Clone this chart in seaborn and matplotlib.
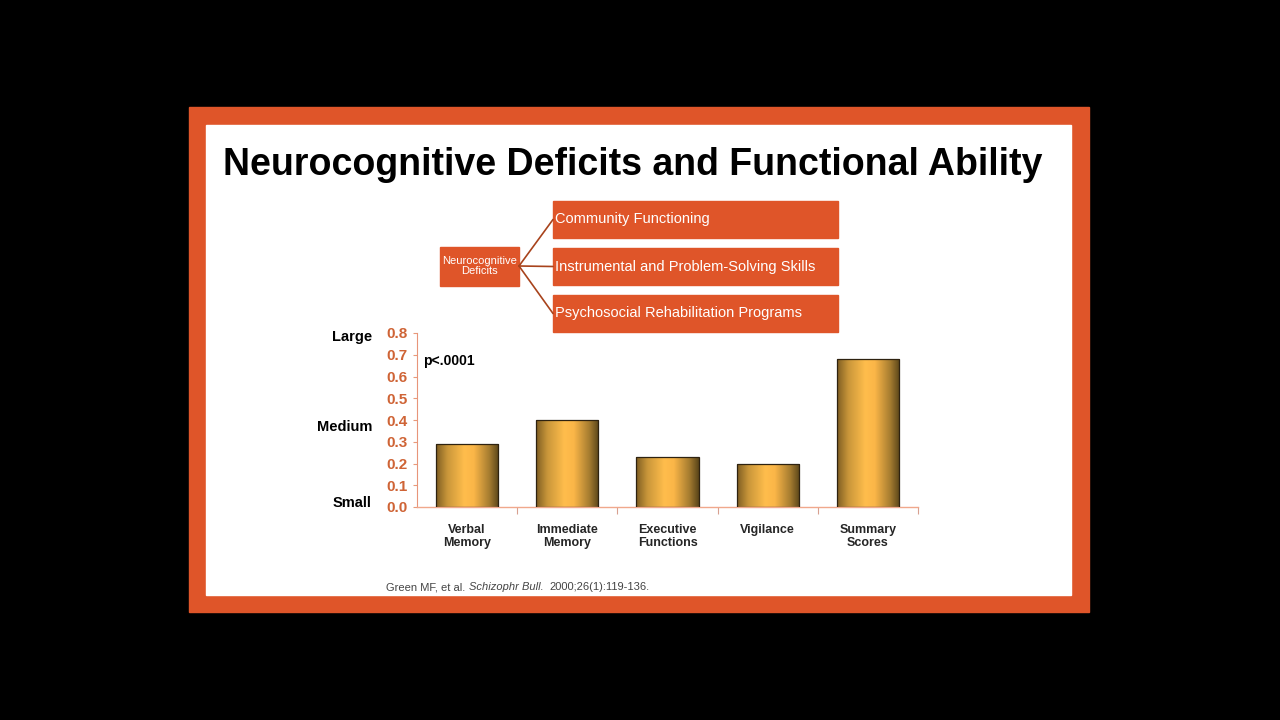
import numpy as np
import pandas as pd
import matplotlib
matplotlib.use('Agg')
import matplotlib.pyplot as plt
from matplotlib.colors import LinearSegmentedColormap
from matplotlib.patches import Rectangle
import seaborn as sns

# ---------------- data ----------------
categories = ['Verbal\nMemory', 'Immediate\nMemory', 'Executive\nFunctions', 'Vigilance', 'Summary\nScores']
effect_size = [0.29, 0.40, 0.23, 0.20, 0.68]
y_ticks = [0.0, 0.1, 0.2, 0.3, 0.4, 0.5, 0.6, 0.7, 0.8]
size_labels = ['Large', 'Medium', 'Small']
size_label_y = [0.78, 0.37, 0.02]
outcomes = ['Community Functioning', 'Instrumental and Problem-Solving Skills',
            'Psychosocial Rehabilitation Programs']

sns.set_theme(style='white')
plt.rcParams['font.family'] = ['Liberation Sans', 'DejaVu Sans']

ORANGE = '#DF5529'
TICK_ORANGE = '#CF6436'

fig = plt.figure(figsize=(12.8, 7.2), dpi=100)
fig.patch.set_facecolor('black')

# background "slide" in pixel coordinates
bg = fig.add_axes([0, 0, 1, 1], zorder=0)
bg.set_xlim(0, 1280)
bg.set_ylim(720, 0)
bg.axis('off')
bg.add_patch(Rectangle((189, 107), 900, 505, color=ORANGE))
bg.add_patch(Rectangle((206, 125), 865, 470, color='white'))

bg.text(633, 165, 'Neurocognitive Deficits and Functional Ability', ha='center', va='center',
        fontsize=27, fontweight='bold', color='black')

# small diagram
bg.add_patch(Rectangle((440, 247), 79, 39, color=ORANGE))
bg.text(479.5, 266, 'Neurocognitive\nDeficits', ha='center', va='center', fontsize=8,
        color='white', linespacing=1.0)
for i, txt in enumerate(outcomes):
    top = 201 + i * 47
    bg.add_patch(Rectangle((553, top), 285, 37, color=ORANGE))
    bg.text(555, top + 18.5, txt, ha='left', va='center', fontsize=10.5, color='white')
    bg.plot([519, 553], [266, top + 18.5], color='#A8431C', lw=1.2)

# citation, pieces chained one after the other
cite = bg.text(386, 587, 'Green MF, et al.', ha='left', va='center', fontsize=8, color='#444444')
cite = bg.annotate('Schizophr Bull.', xy=(1, 0.5), xycoords=cite, xytext=(3, 0),
                   textcoords='offset points', ha='left', va='center',
                   fontsize=8, color='#444444', style='italic')
bg.annotate('2000;26(1):119-136.', xy=(1, 0.5), xycoords=cite, xytext=(4, 0),
            textcoords='offset points', ha='left', va='center', fontsize=8, color='#444444')

# ---------------- chart ----------------
ax = fig.add_axes([417 / 1280, 1 - 507 / 720, 501 / 1280, 174 / 720], zorder=2)
ax.set_facecolor('none')

df = pd.DataFrame({'domain': categories, 'effect': effect_size})
sns.barplot(data=df, x='domain', y='effect', ax=ax, width=0.62, color='#FDB94A',
            edgecolor='#2e2210', linewidth=0.9, zorder=3)

# cylinder-like gradient inside each bar
grad_cmap = LinearSegmentedColormap.from_list(
    'gold', [(0, '#7e5d22'), (0.18, '#c9963a'), (0.45, '#ffbd4c'), (0.6, '#fbb648'),
             (0.85, '#a57c30'), (1, '#5a4419')])
grad = np.linspace(0, 1, 256).reshape(1, -1)
for bar in ax.patches:
    x0, w, h = bar.get_x(), bar.get_width(), bar.get_height()
    im = ax.imshow(grad, extent=[x0, x0 + w, 0, h], aspect='auto', cmap=grad_cmap, zorder=2.5)
    im.set_clip_path(bar)
    bar.set_facecolor('none')

ax.set_xlim(-0.5, 4.5)
ax.set_ylim(0, 0.8)
ax.set_xlabel('')
ax.set_ylabel('')
ax.set_yticks(y_ticks)
ax.set_yticklabels([f'{v:.1f}' for v in y_ticks], fontsize=11, fontweight='bold', color=TICK_ORANGE)
ax.tick_params(axis='y', length=3, width=0.8, color='#E89A7A', pad=4, left=True)
ax.tick_params(axis='x', which='major', length=0, pad=12, labelsize=9)
for lab in ax.get_xticklabels():
    lab.set_fontweight('bold')
ax.set_xticks([0.5, 1.5, 2.5, 3.5, 4.5], minor=True)
ax.tick_params(axis='x', which='minor', length=5, width=0.8, color='#D8A090', bottom=True)

for side in ['top', 'right']:
    ax.spines[side].set_visible(False)
ax.spines['left'].set_color('#E8957A')
ax.spines['left'].set_linewidth(0.8)
ax.spines['bottom'].set_color('#F0A88C')
ax.spines['bottom'].set_linewidth(1.0)

for lab, yv in zip(size_labels, size_label_y):
    ax.text(-0.09, yv, lab, transform=ax.get_yaxis_transform(), ha='right', va='center',
            fontsize=10.5, fontweight='bold', color='black')

ax.text(0.012, 0.67, 'p<.0001', transform=ax.get_yaxis_transform(), ha='left', va='center',
        fontsize=10, fontweight='bold', color='black')

fig.savefig('out.png', dpi=100, facecolor=fig.get_facecolor())
